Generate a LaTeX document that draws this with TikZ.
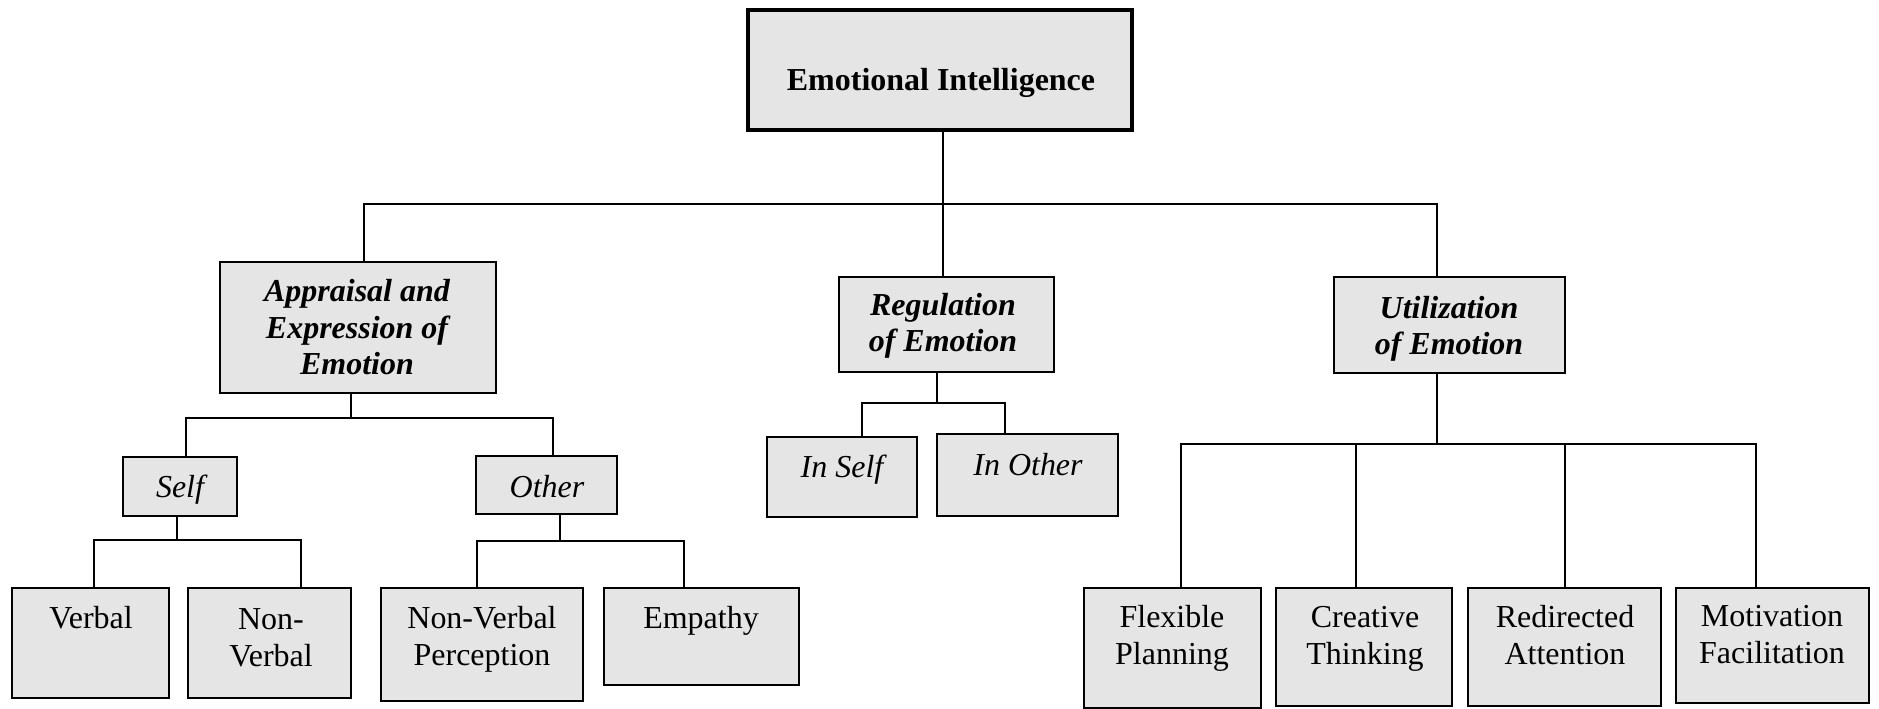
\documentclass[tikz,border=0pt]{standalone}
\usepackage{fontspec}
\setmainfont{Liberation Serif}
\usetikzlibrary{positioning,fit}

\tikzset{
  box/.style={draw, line width=1.1pt, fill=black!10, inner sep=0pt},
  topbox/.style={box, line width=2.3pt},
  lbl/.style={anchor=base, align=center, inner sep=0pt,
    font=\fontsize{18.2}{21}\selectfont},
  link/.style={line width=1pt}
}

\begin{document}
\begin{tikzpicture}[x=0.02cm,y=-0.02cm]
  \useasboundingbox (0,0) rectangle (1879,709);

  % boxes
  \node[topbox, fit={(748,10) (1132,130)}] (ei) {};
  \node[box, fit={(220,262) (496,393)}] (app) {};
  \node[box, fit={(839,277) (1054,372)}] (reg) {};
  \node[box, fit={(1334,277) (1565,373)}] (util) {};

  \node[box, fit={(123,457) (237,516)}] (self) {};
  \node[box, fit={(476,456) (617,514)}] (other) {};
  \node[box, fit={(767,437) (917,517)}] (inself) {};
  \node[box, fit={(937,434) (1118,516)}] (inother) {};

  \node[box, fit={(12,588) (169,698)}] (verbal) {};
  \node[box, fit={(188,588) (351,698)}] (nonverbal) {};
  \node[box, fit={(381,588) (583,701)}] (nvp) {};
  \node[box, fit={(604,588) (799,685)}] (empathy) {};
  \node[box, fit={(1084,588) (1261,708)}] (flexible) {};
  \node[box, fit={(1276,588) (1452,706)}] (creative) {};
  \node[box, fit={(1468,588) (1661,706)}] (redirected) {};
  \node[box, fit={(1676,588) (1869,703)}] (motivation) {};

  % labels (anchored at the baseline of the last line)
  \node[lbl, font=\fontsize{18.2}{21}\selectfont\bfseries] (ei-t) at (941,91) {Emotional Intelligence};
  \node[lbl, font=\fontsize{18.2}{21}\selectfont\bfseries\itshape] (app-t) at (357,375) {Appraisal and\\Expression of\\Emotion};
  \node[lbl, font=\fontsize{18.2}{21}\selectfont\bfseries\itshape] (reg-t) at (943,352) {Regulation\\of Emotion};
  \node[lbl, font=\fontsize{18.2}{21}\selectfont\bfseries\itshape] (util-t) at (1449,355) {Utilization\\of Emotion};

  \node[lbl, font=\fontsize{18.2}{21}\selectfont\itshape] (self-t) at (180,497) {Self};
  \node[lbl, font=\fontsize{18.2}{21}\selectfont\itshape] (other-t) at (547,497) {Other};
  \node[lbl, font=\fontsize{18.2}{21}\selectfont\itshape] (inself-t) at (842,477) {In Self};
  \node[lbl, font=\fontsize{18.2}{21}\selectfont\itshape] (inother-t) at (1028,475) {In Other};

  \node[lbl] (verbal-t) at (91,628) {Verbal};
  \node[lbl] (nonverbal-t) at (271,666) {Non-\\Verbal};
  \node[lbl] (nvp-t) at (482,665) {Non-Verbal\\Perception};
  \node[lbl] (empathy-t) at (701,628) {Empathy};
  \node[lbl] (flexible-t) at (1172,664) {Flexible\\Planning};
  \node[lbl] (creative-t) at (1365,664) {Creative\\Thinking};
  \node[lbl] (redirected-t) at (1565,664) {Redirected\\Attention};
  \node[lbl] (motivation-t) at (1772,663) {Motivation\\Facilitation};

  % first level
  \coordinate (j0) at (943,204);
  \coordinate (j0l) at (364,204);
  \coordinate (j0r) at (1437,204);
  \draw[link] (ei.south -| j0) -- (reg.north -| j0);
  \draw[link] (app.north -| j0l) |- (j0r) -- (util.north -| j0r);

  % appraisal
  \coordinate (ja) at (351,418);
  \coordinate (jal) at (186,418);
  \coordinate (jar) at (553,418);
  \draw[link] (app.south -| ja) -- (ja);
  \draw[link] (self.north -| jal) |- (jar) -- (other.north -| jar);

  % self
  \coordinate (js) at (177,540);
  \coordinate (jsl) at (94,540);
  \coordinate (jsr) at (301,540);
  \draw[link] (self.south -| js) -- (js);
  \draw[link] (verbal.north -| jsl) |- (jsr) -- (nonverbal.north -| jsr);

  % other
  \coordinate (jo) at (560,541);
  \coordinate (jol) at (477,541);
  \coordinate (jor) at (684,541);
  \draw[link] (other.south -| jo) -- (jo);
  \draw[link] (nvp.north -| jol) |- (jor) -- (empathy.north -| jor);

  % regulation
  \coordinate (jr) at (937,403);
  \coordinate (jrl) at (862,403);
  \coordinate (jrr) at (1005,403);
  \draw[link] (reg.south -| jr) -- (jr);
  \draw[link] (inself.north -| jrl) |- (jrr) -- (inother.north -| jrr);

  % utilization
  \coordinate (ju) at (1437,444);
  \coordinate (ju1) at (1181,444);
  \coordinate (ju2) at (1356,444);
  \coordinate (ju3) at (1565,444);
  \coordinate (ju4) at (1756,444);
  \draw[link] (util.south -| ju) -- (ju);
  \draw[link] (flexible.north -| ju1) |- (ju4) -- (motivation.north -| ju4);
  \draw[link] (ju2) -- (creative.north -| ju2);
  \draw[link] (ju3) -- (redirected.north -| ju3);
\end{tikzpicture}
\end{document}
